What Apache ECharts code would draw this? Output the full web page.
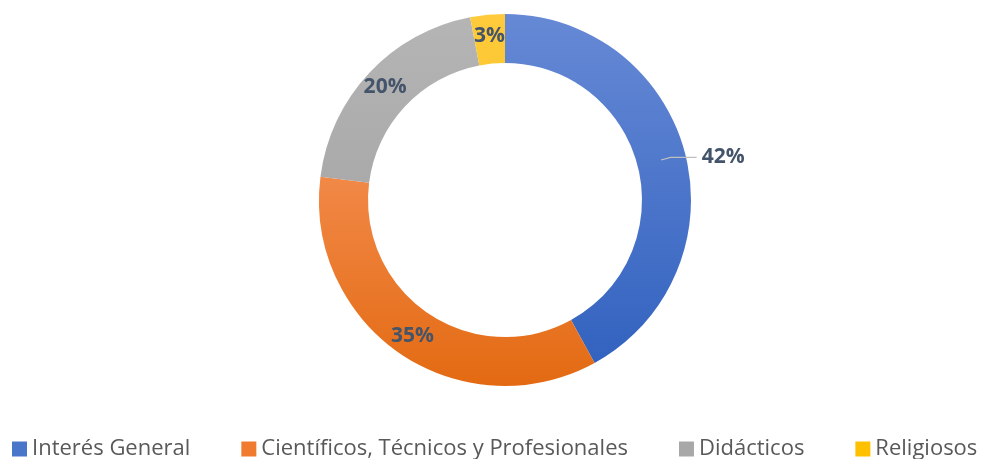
<!DOCTYPE html>
<html>
<head>
<meta charset="utf-8">
<script src="https://cdn.jsdelivr.net/npm/echarts@6/dist/echarts.min.js"></script>
<style>
  html, body { margin: 0; padding: 0; background: #fff; }
  #chart { width: 984px; height: 459px; }
</style>
</head>
<body>
<div id="chart"></div>
<script>
// datos del gráfico
var categorias = ['Interés General', 'Científicos, Técnicos y Profesionales', 'Didácticos', 'Religiosos'];
var valores = [42, 35, 20, 3];
var coloresArriba = ['#6689D5', '#FDA070', '#B5B5B5', '#FFCB3C'];
var coloresAbajo = ['#2F60BE', '#E36A12', '#9C9C9C', '#EEB500'];
var coloresLeyenda = ['#4A76CA', '#F07A30', '#A8A8A8', '#FFC000'];

var chart = echarts.init(document.getElementById('chart'));

function degradado(i) {
  return new echarts.graphic.LinearGradient(0, 15, 0, 386, [
    { offset: 0, color: coloresArriba[i] },
    { offset: 1, color: coloresAbajo[i] }
  ], true);
}

var etiqueta = {
  fontFamily: 'Open Sans',
  fontWeight: 'bold',
  fontSize: 21,
  color: '#44546A',
  formatter: '{c}%'
};

// serie principal (anillo)
var datosAnillo = categorias.map(function (nombre, i) {
  var d = {
    name: nombre,
    value: valores[i],
    itemStyle: { color: degradado(i) },
    label: { show: true, position: 'inside' }
  };
  if (i === 0) d.label = { show: false };
  return d;
});

// serie auxiliar para la etiqueta del 42% con línea guía
var datosGuia = categorias.map(function (nombre, i) {
  return {
    name: nombre,
    value: valores[i],
    label: { show: i === 0 },
    labelLine: { show: i === 0 }
  };
});

var option = {
  animation: false,
  legend: {
    bottom: -6,
    left: 12,
    right: 0,
    padding: [5, 0, 5, 0],
    icon: 'rect',
    itemWidth: 15,
    itemHeight: 15,
    itemGap: 51,
    textStyle: { fontFamily: 'Open Sans', fontSize: 22, color: '#595959' },
    data: categorias.map(function (nombre, i) {
      return { name: nombre, itemStyle: { color: coloresLeyenda[i] } };
    })
  },
  series: [
    {
      type: 'pie',
      center: [505, 200],
      radius: [137, 186],
      startAngle: 90,
      clockwise: true,
      label: etiqueta,
      labelLine: { show: false },
      data: datosAnillo
    },
    {
      type: 'pie',
      center: [505, 200],
      radius: [0, 161],
      startAngle: 90,
      clockwise: true,
      silent: true,
      z: 3,
      itemStyle: { color: 'rgba(0,0,0,0)' },
      label: Object.assign({ position: 'outside', distanceToLabelLine: 5 }, etiqueta),
      labelLine: { length: 10, length2: 26, lineStyle: { color: '#BFBFBF', width: 1.2 } },
      data: datosGuia
    }
  ]
};

chart.setOption(option);
</script>
</body>
</html>
